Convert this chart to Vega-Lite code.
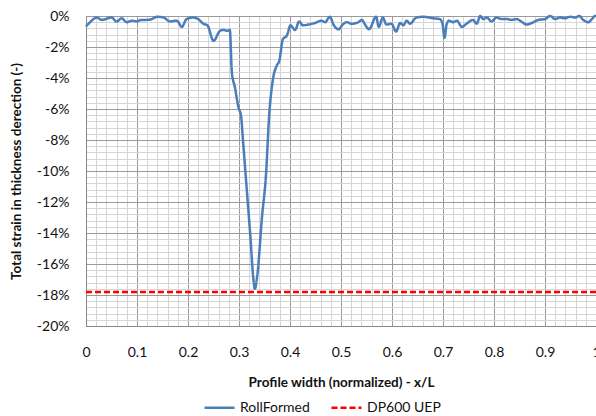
{
  "$schema": "https://vega.github.io/schema/vega-lite/v6.json",
  "width": 510,
  "height": 310,
  "autosize": {"type": "none"},
  "padding": {"left": 86, "top": 16, "right": 0, "bottom": 90},
  "background": "white",
  "config": {
    "view": {"stroke": null},
    "font": "Lato",
    "axis": {"labelFont": "Lato", "titleFont": "Lato", "labelColor": "#111", "titleColor": "#111"}
  },
  "data": {
    "values": [
      {"series": "RollFormed", "x": 0.000, "v": -0.68},
      {"series": "RollFormed", "x": 0.008, "v": -0.4},
      {"series": "RollFormed", "x": 0.021, "v": -0.1},
      {"series": "RollFormed", "x": 0.031, "v": -0.25},
      {"series": "RollFormed", "x": 0.050, "v": -0.1},
      {"series": "RollFormed", "x": 0.060, "v": -0.35},
      {"series": "RollFormed", "x": 0.070, "v": -0.15},
      {"series": "RollFormed", "x": 0.080, "v": -0.4},
      {"series": "RollFormed", "x": 0.090, "v": -0.3},
      {"series": "RollFormed", "x": 0.099, "v": -0.35},
      {"series": "RollFormed", "x": 0.109, "v": -0.25},
      {"series": "RollFormed", "x": 0.119, "v": -0.25},
      {"series": "RollFormed", "x": 0.129, "v": -0.2},
      {"series": "RollFormed", "x": 0.139, "v": -0.05},
      {"series": "RollFormed", "x": 0.152, "v": -0.1},
      {"series": "RollFormed", "x": 0.165, "v": -0.35},
      {"series": "RollFormed", "x": 0.178, "v": -0.3},
      {"series": "RollFormed", "x": 0.188, "v": -0.7},
      {"series": "RollFormed", "x": 0.197, "v": -0.2},
      {"series": "RollFormed", "x": 0.210, "v": -0.1},
      {"series": "RollFormed", "x": 0.220, "v": -0.2},
      {"series": "RollFormed", "x": 0.230, "v": -0.5},
      {"series": "RollFormed", "x": 0.238, "v": -0.6},
      {"series": "RollFormed", "x": 0.250, "v": -1.6},
      {"series": "RollFormed", "x": 0.263, "v": -0.95},
      {"series": "RollFormed", "x": 0.269, "v": -0.9},
      {"series": "RollFormed", "x": 0.277, "v": -0.95},
      {"series": "RollFormed", "x": 0.282, "v": -0.9},
      {"series": "RollFormed", "x": 0.286, "v": -3.65},
      {"series": "RollFormed", "x": 0.292, "v": -4.6},
      {"series": "RollFormed", "x": 0.299, "v": -5.9},
      {"series": "RollFormed", "x": 0.304, "v": -6.45},
      {"series": "RollFormed", "x": 0.308, "v": -8.1},
      {"series": "RollFormed", "x": 0.315, "v": -11.1},
      {"series": "RollFormed", "x": 0.322, "v": -14.1},
      {"series": "RollFormed", "x": 0.328, "v": -16.9},
      {"series": "RollFormed", "x": 0.331, "v": -17.6},
      {"series": "RollFormed", "x": 0.336, "v": -16.7},
      {"series": "RollFormed", "x": 0.345, "v": -13.0},
      {"series": "RollFormed", "x": 0.353, "v": -10.2},
      {"series": "RollFormed", "x": 0.359, "v": -6.5},
      {"series": "RollFormed", "x": 0.367, "v": -4.0},
      {"series": "RollFormed", "x": 0.374, "v": -3.2},
      {"series": "RollFormed", "x": 0.379, "v": -2.9},
      {"series": "RollFormed", "x": 0.386, "v": -1.5},
      {"series": "RollFormed", "x": 0.394, "v": -1.25},
      {"series": "RollFormed", "x": 0.401, "v": -0.6},
      {"series": "RollFormed", "x": 0.410, "v": -0.9},
      {"series": "RollFormed", "x": 0.418, "v": -0.35},
      {"series": "RollFormed", "x": 0.425, "v": -0.6},
      {"series": "RollFormed", "x": 0.436, "v": -0.55},
      {"series": "RollFormed", "x": 0.449, "v": -0.45},
      {"series": "RollFormed", "x": 0.462, "v": -0.3},
      {"series": "RollFormed", "x": 0.469, "v": -0.4},
      {"series": "RollFormed", "x": 0.478, "v": -0.05},
      {"series": "RollFormed", "x": 0.486, "v": -0.6},
      {"series": "RollFormed", "x": 0.495, "v": -0.85},
      {"series": "RollFormed", "x": 0.505, "v": -0.5},
      {"series": "RollFormed", "x": 0.511, "v": -0.4},
      {"series": "RollFormed", "x": 0.521, "v": -0.5},
      {"series": "RollFormed", "x": 0.534, "v": -0.4},
      {"series": "RollFormed", "x": 0.541, "v": -0.25},
      {"series": "RollFormed", "x": 0.547, "v": -0.55},
      {"series": "RollFormed", "x": 0.555, "v": -0.85},
      {"series": "RollFormed", "x": 0.569, "v": -0.05},
      {"series": "RollFormed", "x": 0.574, "v": -0.7},
      {"series": "RollFormed", "x": 0.582, "v": -0.1},
      {"series": "RollFormed", "x": 0.589, "v": -0.55},
      {"series": "RollFormed", "x": 0.599, "v": -0.5},
      {"series": "RollFormed", "x": 0.608, "v": -1.0},
      {"series": "RollFormed", "x": 0.616, "v": -0.45},
      {"series": "RollFormed", "x": 0.622, "v": -0.6},
      {"series": "RollFormed", "x": 0.629, "v": -0.3},
      {"series": "RollFormed", "x": 0.635, "v": -0.5},
      {"series": "RollFormed", "x": 0.648, "v": -0.1},
      {"series": "RollFormed", "x": 0.661, "v": -0.05},
      {"series": "RollFormed", "x": 0.681, "v": -0.15},
      {"series": "RollFormed", "x": 0.694, "v": -0.2},
      {"series": "RollFormed", "x": 0.699, "v": -0.5},
      {"series": "RollFormed", "x": 0.703, "v": -1.4},
      {"series": "RollFormed", "x": 0.707, "v": -0.55},
      {"series": "RollFormed", "x": 0.712, "v": -0.3},
      {"series": "RollFormed", "x": 0.720, "v": -0.4},
      {"series": "RollFormed", "x": 0.727, "v": -0.3},
      {"series": "RollFormed", "x": 0.737, "v": -0.7},
      {"series": "RollFormed", "x": 0.746, "v": -0.5},
      {"series": "RollFormed", "x": 0.759, "v": -0.25},
      {"series": "RollFormed", "x": 0.766, "v": -0.5},
      {"series": "RollFormed", "x": 0.773, "v": 0},
      {"series": "RollFormed", "x": 0.779, "v": -0.2},
      {"series": "RollFormed", "x": 0.786, "v": -0.1},
      {"series": "RollFormed", "x": 0.795, "v": -0.35},
      {"series": "RollFormed", "x": 0.805, "v": -0.1},
      {"series": "RollFormed", "x": 0.815, "v": -0.2},
      {"series": "RollFormed", "x": 0.825, "v": -0.2},
      {"series": "RollFormed", "x": 0.835, "v": -0.25},
      {"series": "RollFormed", "x": 0.845, "v": -0.2},
      {"series": "RollFormed", "x": 0.851, "v": -0.3},
      {"series": "RollFormed", "x": 0.864, "v": -0.55},
      {"series": "RollFormed", "x": 0.874, "v": -0.45},
      {"series": "RollFormed", "x": 0.887, "v": -0.25},
      {"series": "RollFormed", "x": 0.900, "v": -0.2},
      {"series": "RollFormed", "x": 0.910, "v": 0},
      {"series": "RollFormed", "x": 0.920, "v": -0.2},
      {"series": "RollFormed", "x": 0.929, "v": -0.1},
      {"series": "RollFormed", "x": 0.939, "v": -0.15},
      {"series": "RollFormed", "x": 0.949, "v": -0.05},
      {"series": "RollFormed", "x": 0.959, "v": -0.1},
      {"series": "RollFormed", "x": 0.967, "v": 0},
      {"series": "RollFormed", "x": 0.975, "v": -0.25},
      {"series": "RollFormed", "x": 0.985, "v": -0.4},
      {"series": "RollFormed", "x": 0.992, "v": -0.2},
      {"series": "RollFormed", "x": 0.998, "v": 0},
      {"series": "RollFormed", "x": 1.0, "v": 0},
      {"series": "DP600 UEP", "x": 0, "v": -17.8},
      {"series": "DP600 UEP", "x": 1, "v": -17.8}
    ]
  },
  "layer": [
    {
      "mark": {"type": "point", "opacity": 0},
      "encoding": {
        "x": {"field": "x", "type": "quantitative", "scale": {"domain": [0, 1], "nice": false, "zero": false},
          "axis": {"orient": "bottom", "values": [0,0.02,0.04,0.06,0.08,0.1,0.12,0.14,0.16,0.18,0.2,0.22,0.24,0.26,0.28,0.3,0.32,0.34,0.36,0.38,0.4,0.42,0.44,0.46,0.48,0.5,0.52,0.54,0.56,0.58,0.6,0.62,0.64,0.66,0.68,0.7,0.72,0.74,0.76,0.78,0.8,0.82,0.84,0.86,0.88,0.9,0.92,0.94,0.96,0.98,1],
            "grid": true, "gridColor": "#d6d6d6", "gridWidth": 1, "labels": false, "ticks": false, "domain": false, "title": null}},
        "y": {"field": "v", "type": "quantitative", "scale": {"domain": [-20, 0], "nice": false, "zero": false},
          "axis": {"orient": "left", "values": [-20,-19.6,-19.2,-18.8,-18.4,-18,-17.6,-17.2,-16.8,-16.4,-16,-15.6,-15.2,-14.8,-14.4,-14,-13.6,-13.2,-12.8,-12.4,-12,-11.6,-11.2,-10.8,-10.4,-10,-9.6,-9.2,-8.8,-8.4,-8,-7.6,-7.2,-6.8,-6.4,-6,-5.6,-5.2,-4.8,-4.4,-4,-3.6,-3.2,-2.8,-2.4,-2,-1.6,-1.2,-0.8,-0.4,0],
            "grid": true, "gridColor": "#d6d6d6", "gridWidth": 1, "labels": false, "ticks": false, "domain": false, "title": null}}
      }
    },
    {
      "mark": {"type": "line", "strokeWidth": 2.5, "interpolate": "monotone"},
      "encoding": {
        "x": {"field": "x", "type": "quantitative", "scale": {"domain": [0, 1], "nice": false, "zero": false},
          "axis": {"orient": "bottom", "values": [0,0.1,0.2,0.3,0.4,0.5,0.6,0.7,0.8,0.9,1], "format": "~g",
            "grid": true, "gridColor": "#9a9a9a", "gridWidth": 1, "ticks": false, "domain": true, "domainColor": "#888", "domainWidth": 1,
            "labelFontSize": 14, "labelPadding": 19, "labelFlush": false,
            "title": "Profile width (normalized) - x/L", "titleFontSize": 13.5, "titleFontWeight": "bold", "titlePadding": 16}},
        "y": {"field": "v", "type": "quantitative", "scale": {"domain": [-20, 0], "nice": false, "zero": false},
          "axis": {"orient": "left", "values": [-20,-18,-16,-14,-12,-10,-8,-6,-4,-2,0], "labelExpr": "datum.value + '%'",
            "grid": true, "gridColor": "#9a9a9a", "gridWidth": 1, "ticks": false, "domain": true, "domainColor": "#888", "domainWidth": 1,
            "labelFontSize": 14, "labelPadding": 17, "labelFlush": false,
            "title": "Total strain in thickness derection (-)", "titleFontSize": 13.5, "titleFontWeight": "bold", "titlePadding": 13}},
        "color": {"field": "series", "type": "nominal",
          "scale": {"domain": ["RollFormed", "DP600 UEP"], "range": ["#4a7ebb", "#ff0000"]},
          "legend": {"orient": "none", "direction": "horizontal", "legendX": 117, "legendY": 375, "title": null,
            "symbolType": "stroke", "symbolSize": 900, "symbolStrokeWidth": 2.5, "labelFontSize": 14, "labelColor": "#111", "columnPadding": 16, "labelOffset": 4}},
        "strokeDash": {"field": "series", "type": "nominal",
          "scale": {"domain": ["RollFormed", "DP600 UEP"], "range": [[1, 0], [6, 3]]},
          "legend": null}
      }
    }
  ],
  "resolve": {"axis": {"x": "independent", "y": "independent"}}
}
